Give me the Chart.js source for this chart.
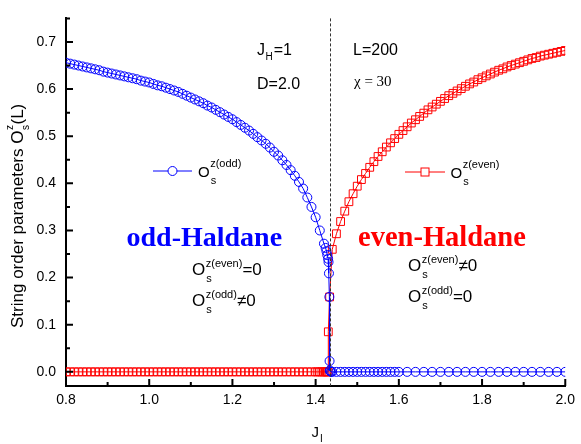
<!DOCTYPE html>
<html><head><meta charset="utf-8">
<script src="https://cdn.jsdelivr.net/npm/chart.js@4"></script>
<style>html,body{margin:0;padding:0;background:#fff;}</style>
</head><body>
<canvas id="c" width="581" height="444" style="display:block"></canvas>
<script>
// ---- data ----
const jOdd = [
0.80,0.81,0.82,0.83,0.84,0.85,0.86,0.87,0.88,0.89,
0.90,0.91,0.92,0.93,0.94,0.95,0.96,0.97,0.98,0.99,
1.00,1.01,1.02,1.03,1.04,1.05,1.06,1.07,1.08,1.09,
1.10,1.11,1.12,1.13,1.14,1.15,1.16,1.17,1.18,1.19,
1.20,1.21,1.22,1.23,1.24,1.25,1.26,1.27,1.28,1.29,
1.30,1.31,1.32,1.33,1.34,1.35,1.36,1.37,1.38,1.39,
1.40,1.41,1.42,
1.424,1.426,1.428,1.430,1.431,1.432,1.433,1.4335,1.434,1.435,1.437,
1.44,1.45,1.46,1.47,1.48,1.49,1.50,1.51,1.52,1.53,1.54,1.55,1.56,1.57,1.58,1.59,1.60,
1.62,1.64,1.66,1.68,1.70,1.72,1.74,1.76,1.78,1.80,1.82,1.84,1.86,1.88,1.90,1.92,1.94,1.96,1.98,2.00
];
const oddVals = [
0.656,0.654,0.652,0.650,0.648,0.646,0.644,0.642,0.640,0.637,
0.635,0.633,0.631,0.629,0.627,0.625,0.623,0.621,0.618,0.616,
0.614,0.611,0.608,0.606,0.603,0.600,0.597,0.594,0.590,0.586,
0.582,0.578,0.574,0.570,0.565,0.561,0.556,0.551,0.546,0.541,
0.536,0.530,0.524,0.518,0.512,0.505,0.498,0.491,0.484,0.476,
0.467,0.459,0.449,0.439,0.428,0.416,0.403,0.389,0.370,0.350,
0.328,0.300,0.272,
0.263,0.256,0.248,0.240,0.233,0.209,0.159,0.023,0.003,0.001,0,
0,0,0,0,0,0,0,0,0,0,0,0,0,0,0,0,0,
0,0,0,0,0,0,0,0,0,0,0,0,0,0,0,0,0,0,0,0
];
const jEven = [
0.80,0.81,0.82,0.83,0.84,0.85,0.86,0.87,0.88,0.89,
0.90,0.91,0.92,0.93,0.94,0.95,0.96,0.97,0.98,0.99,
1.00,1.01,1.02,1.03,1.04,1.05,1.06,1.07,1.08,1.09,
1.10,1.11,1.12,1.13,1.14,1.15,1.16,1.17,1.18,1.19,
1.20,1.21,1.22,1.23,1.24,1.25,1.26,1.27,1.28,1.29,
1.30,1.31,1.32,1.33,1.34,1.35,1.36,1.37,1.38,1.39,
1.40,1.405,1.41,1.415,1.42,1.423,1.426,1.428,1.430,1.4305,1.4336,
1.44,1.45,1.46,1.47,1.48,1.49,1.50,1.51,1.52,1.53,
1.54,1.55,1.56,1.57,1.58,1.59,1.60,1.61,1.62,1.63,
1.64,1.65,1.66,1.67,1.68,1.69,1.70,1.71,1.72,1.73,
1.74,1.75,1.76,1.77,1.78,1.79,1.80,1.81,1.82,1.83,
1.84,1.85,1.86,1.87,1.88,1.89,1.90,1.91,1.92,1.93,
1.94,1.95,1.96,1.97,1.98,1.99,2.00
];
const evenVals = [
0,0,0,0,0,0,0,0,0,0,
0,0,0,0,0,0,0,0,0,0,
0,0,0,0,0,0,0,0,0,0,
0,0,0,0,0,0,0,0,0,0,
0,0,0,0,0,0,0,0,0,0,
0,0,0,0,0,0,0,0,0,0,
0,0,0,0,0,0,0,0,0,0.085,0.159,
0.260,0.293,0.319,0.341,0.361,0.378,0.394,0.408,0.421,0.434,
0.446,0.457,0.467,0.477,0.486,0.495,0.504,0.512,0.520,0.528,
0.535,0.542,0.549,0.556,0.562,0.568,0.574,0.580,0.586,0.591,
0.596,0.601,0.606,0.611,0.615,0.620,0.624,0.628,0.632,0.636,
0.640,0.643,0.647,0.650,0.653,0.656,0.659,0.662,0.665,0.667,
0.670,0.672,0.674,0.676,0.678,0.680,0.682
];
const xMajorTicks = [0.8,1.0,1.2,1.4,1.6,1.8,2.0];
const xMinorTicks = [0.9,1.1,1.3,1.5,1.7,1.9];
const yMajorTicks = [0.0,0.1,0.2,0.3,0.4,0.5,0.6,0.7];
const yMinorTicks = [0.05,0.15,0.25,0.35,0.45,0.55,0.65,0.75];
const jCritical = 1.4336;

const BLUE = '#0000ff', RED = '#ff0000';
const SANS = '"Liberation Sans", Arial, sans-serif';
const SERIF = '"Liberation Serif", "Times New Roman", serif';

function pts(xs, ys){ return xs.map((x,i)=>({x:x, y:ys[i]})); }

// O_s^{sup} + tail
function richO(ctx, x, y, bigSize, smallSize, sup, tail, raise, drop){
  ctx.font = bigSize + 'px ' + SANS;
  ctx.fillText('O', x, y);
  const w = ctx.measureText('O').width;
  const xs = x + w + 0.5;
  ctx.font = smallSize + 'px ' + SANS;
  ctx.fillText(sup, xs, y - raise);
  ctx.fillText('s', xs + 0.5, y + drop);
  const ws = Math.max(ctx.measureText(sup).width, ctx.measureText('s').width);
  if (tail){ ctx.font = bigSize + 'px ' + SANS; ctx.fillText(tail, xs + ws, y); }
}

const overlay = {
  id:'overlay',
  afterDraw(chart){
    const ctx = chart.ctx, xs = chart.scales.x, ys = chart.scales.y, a = chart.chartArea;
    ctx.save();
    // inward ticks
    ctx.strokeStyle = '#000'; ctx.lineWidth = 2;
    const yb = a.bottom, xl = a.left;
    ctx.beginPath();
    xMajorTicks.forEach(v=>{ const p = xs.getPixelForValue(v); ctx.moveTo(p, yb); ctx.lineTo(p, yb-7); });
    xMinorTicks.forEach(v=>{ const p = xs.getPixelForValue(v); ctx.moveTo(p, yb); ctx.lineTo(p, yb-4); });
    yMajorTicks.forEach(v=>{ const p = ys.getPixelForValue(v); ctx.moveTo(xl, p); ctx.lineTo(xl+7, p); });
    yMinorTicks.forEach(v=>{ const p = ys.getPixelForValue(v); ctx.moveTo(xl, p); ctx.lineTo(xl+4, p); });
    ctx.stroke();
    // dashed critical line
    const xc = Math.round(xs.getPixelForValue(jCritical)) + 0.5;
    ctx.strokeStyle = '#333'; ctx.lineWidth = 1; ctx.setLineDash([3,2]);
    ctx.beginPath(); ctx.moveTo(xc, a.top); ctx.lineTo(xc, a.bottom); ctx.stroke();
    ctx.setLineDash([]);

    ctx.fillStyle = '#000'; ctx.textAlign = 'left'; ctx.textBaseline = 'alphabetic';
    // J_H=1
    ctx.font = '16px ' + SANS; ctx.fillText('J', 257, 55);
    let w = ctx.measureText('J').width;
    ctx.font = '10px ' + SANS; ctx.fillText('H', 257 + w + 0.5, 60);
    let wh = ctx.measureText('H').width;
    ctx.font = '16px ' + SANS; ctx.fillText('=1', 257 + w + wh + 1.5, 55);
    ctx.fillText('D=2.0', 257, 89);
    ctx.fillText('L=200', 353, 55);
    ctx.font = '15px ' + SERIF; ctx.fillText('\u03c7 = 30', 354, 86);

    // legends
    ctx.strokeStyle = BLUE; ctx.lineWidth = 1;
    ctx.beginPath(); ctx.moveTo(153, 171); ctx.lineTo(192, 171); ctx.stroke();
    ctx.fillStyle = '#fff';
    ctx.beginPath(); ctx.arc(172.5, 171, 4.5, 0, Math.PI*2); ctx.fill(); ctx.stroke();
    ctx.fillStyle = '#000';
    richO(ctx, 198, 176.5, 15, 11, 'z(odd)', '', 9.5, 7);

    ctx.strokeStyle = RED;
    ctx.beginPath(); ctx.moveTo(405, 172); ctx.lineTo(445, 172); ctx.stroke();
    ctx.fillStyle = '#fff';
    ctx.fillRect(421, 168, 8, 8); ctx.strokeRect(421, 168, 8, 8);
    ctx.fillStyle = '#000';
    richO(ctx, 450.5, 177.5, 15, 11, 'z(even)', '', 9.5, 7.5);

    // phase labels
    ctx.font = 'bold 28px ' + SERIF;
    ctx.fillStyle = BLUE; ctx.fillText('odd-Haldane', 126.5, 246);
    ctx.font = 'bold 28.5px ' + SERIF;
    ctx.fillStyle = RED; ctx.fillText('even-Haldane', 358, 246);

    ctx.fillStyle = '#000';
    richO(ctx, 192, 274.5, 17, 11, 'z(even)', '=0', 8, 7);
    richO(ctx, 192, 305.5, 17, 11, 'z(odd)', '\u22600', 8, 7);
    richO(ctx, 408, 271, 17, 11, 'z(even)', '\u22600', 8, 7);
    richO(ctx, 408, 302, 17, 11, 'z(odd)', '=0', 8, 7);

    // x title J_I
    ctx.font = '15px ' + SANS; ctx.fillText('J', 311.5, 437);
    w = ctx.measureText('J').width;
    ctx.font = '10px ' + SANS; ctx.fillText('I', 311.5 + w + 1, 441.5);

    // y title
    ctx.save();
    ctx.translate(22.5, 328); ctx.rotate(-Math.PI/2);
    ctx.font = '17px ' + SANS;
    const s1 = 'String order parameters ';
    ctx.fillText(s1, 0, 0);
    let cx = ctx.measureText(s1).width;
    ctx.fillText('O', cx, 0); cx += ctx.measureText('O').width + 0.5;
    ctx.font = '10px ' + SANS;
    ctx.fillText('z', cx, -9.5); ctx.fillText('s', cx, 6);
    cx += Math.max(ctx.measureText('z').width, ctx.measureText('s').width) + 0.5;
    ctx.font = '17px ' + SANS; ctx.fillText('(L)', cx, 0);
    ctx.restore();

    ctx.restore();
  }
};

new Chart(document.getElementById('c'), {
  type: 'scatter',
  data: {
    datasets: [
      { label:'odd', data: pts(jOdd, oddVals), showLine:true, borderColor:BLUE, borderWidth:1,
        pointStyle:'circle', pointRadius:4.5, pointBorderWidth:1, pointBorderColor:BLUE,
        pointBackgroundColor:'rgba(0,0,0,0)', tension:0 },
      { label:'even', data: pts(jEven, evenVals), showLine:true, borderColor:RED, borderWidth:1,
        pointStyle:'rect', pointRadius:5.5, pointBorderWidth:1, pointBorderColor:RED,
        pointBackgroundColor:'rgba(0,0,0,0)', tension:0 }
    ]
  },
  options: {
    responsive:false, animation:false, devicePixelRatio:1,
    layout:{ padding:{ top:13, right:15, left:0, bottom:0 } },
    plugins:{ legend:{display:false}, tooltip:{enabled:false} },
    scales:{
      x:{ type:'linear', position:'bottom', min:0.8, max:2.0,
          grid:{display:false, drawTicks:false}, border:{display:true, width:2, color:'#000'},
          ticks:{ stepSize:0.2, padding:6, color:'#000', maxRotation:0, autoSkip:false,
                  font:{family:SANS, size:14}, callback:v=>Number(v).toFixed(1) },
          afterFit(s){ s.height = 58; } },
      y:{ type:'linear', min:-0.03, max:0.75,
          grid:{display:false, drawTicks:false}, border:{display:true, width:2, color:'#000'},
          ticks:{ stepSize:0.1, includeBounds:false, padding:10, color:'#000',
                  font:{family:SANS, size:14}, callback:v=>Number(v).toFixed(1) },
          afterFit(s){ s.width = 66; } }
    }
  },
  plugins:[overlay]
});
</script>
</body></html>
